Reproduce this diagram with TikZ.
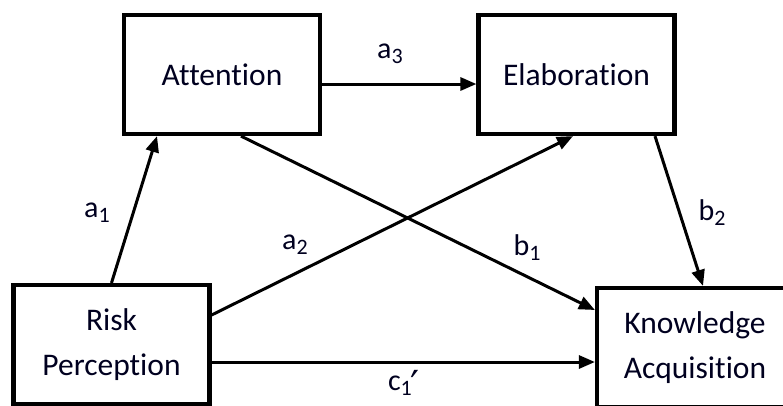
\documentclass[tikz,border=0pt]{standalone}
\usepackage{fontspec}
\setmainfont{Carlito}[Ligatures=NoCommon]
\newfontfamily\primefont{DejaVu Sans}
\usetikzlibrary{arrows.meta}
\newcommand{\lowsub}[1]{\raisebox{-5pt}{\fontsize{22}{22}\selectfont #1}}
\begin{document}
\begin{tikzpicture}[x=1pt,y=-1pt,
  varbox/.style={draw=black, line width=4.2pt, minimum width=196pt, minimum height=119pt,
    inner sep=0pt, align=center, font=\fontsize{31.5}{45}\selectfont, text=black!88!blue},
  path/.style={line width=3pt, -{Triangle[length=16pt,width=13pt]}},
  coef/.style={anchor=base, inner sep=0pt, font=\fontsize{30}{36}\selectfont, text=black!88!blue}]
  \useasboundingbox (0,0) rectangle (783,405);
  \clip (0,0) rectangle (783,405);

  % variables
  \node[varbox] (att)  at (222,74.5)   {Attention};
  \node[varbox] (elab) at (576.5,74.5) {Elaboration};
  \node[varbox] (risk) at (111.5,344.5) {Risk\\Perception};
  \node[varbox] (know) at (695,347.5)  {Knowledge\\Acquisition};

  % paths
  \draw[path] (risk.north) -- ([xshift=-65pt]att.south);
  \draw[path] ([yshift=-9.5pt]att.east) -- ([yshift=-9.5pt]elab.west);
  \draw[path] ([yshift=29.5pt]risk.east) -- ([xshift=-3.5pt]elab.south);
  \draw[path] ([xshift=19pt]att.south) -- ([yshift=37.5pt]know.west);
  \draw[path] ([xshift=78.5pt]elab.south) -- ([xshift=8pt]know.north);
  \draw[path] ([yshift=-17.5pt]risk.east) -- ([yshift=-14.5pt]know.west);

  % coefficients
  \node[coef] (la1) at (97,217)  {a\lowsub{1}};
  \node[coef] (la2) at (295,249) {a\lowsub{2}};
  \node[coef] (la3) at (390,58)  {a\lowsub{3}};
  \node[coef] (lb1) at (527,255) {b\lowsub{1}};
  \node[coef] (lb2) at (712,220) {b\lowsub{2}};
  \node[coef] (lc1) at (404,390) {c\lowsub{1}\kern-1pt\smash{\raisebox{-9pt}{\primefont\fontsize{40}{40}\selectfont ′}}};
\end{tikzpicture}
\end{document}
